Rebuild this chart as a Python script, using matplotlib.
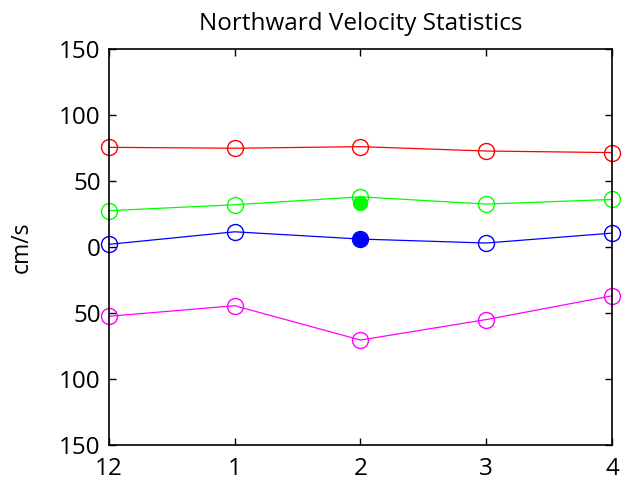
import numpy as np
import matplotlib
matplotlib.use('Agg')
import matplotlib.pyplot as plt

plt.rcParams['font.family'] = ['Open Sans', 'DejaVu Sans']

months = ['12', '1', '2', '3', '4']
red_vals = [75.5, 74.8, 76.0, 72.7, 71.5]
green_vals = [27.5, 32.0, 38.0, 32.5, 36.0]
blue_vals = [2.0, 11.5, 6.0, 3.0, 10.5]
magenta_vals = [-52.5, -44.5, -70.5, -55.0, -37.0]
green_fill = 33.0
blue_fill = 6.0

yticks = [-150, -100, -50, 0, 50, 100, 150]
ytick_labels = ['150', '100', '50', '0', '50', '100', '150']

x = np.arange(len(months))

fig = plt.figure(figsize=(6.27, 4.83), dpi=100)
ax = fig.add_axes([0.1738, 0.0787, 0.8022, 0.8199])

for vals, col in [(red_vals, 'red'), (green_vals, '#00ff00'),
                  (blue_vals, 'blue'), (magenta_vals, 'magenta')]:
    ax.plot(x, vals, color=col, linewidth=0.9, marker='o', markersize=11.5,
            markerfacecolor='none', markeredgecolor=col, markeredgewidth=1.0,
            clip_on=False)

ax.plot(x[2], green_fill, 'o', color='#00ff00', markersize=10, clip_on=False)
ax.plot(x[2], blue_fill, 'o', color='blue', markersize=10, clip_on=False)

ax.set_xlim(0, 4)
ax.set_ylim(-150, 150)
ax.set_xticks(x)
ax.set_xticklabels(months)
ax.set_yticks(yticks)
ax.set_yticklabels(ytick_labels)
ax.tick_params(direction='in', length=5, width=1, labelsize=17.5, top=True,
               right=True, pad=6)
ax.tick_params(axis='x', pad=9)
for s in ax.spines.values():
    s.set_linewidth(1.2)
ax.set_ylabel('cm/s', fontsize=16.5, labelpad=18)
ax.set_title('Northward Velocity Statistics', fontsize=17.5, pad=14)

fig.savefig('out.png', dpi=100)
